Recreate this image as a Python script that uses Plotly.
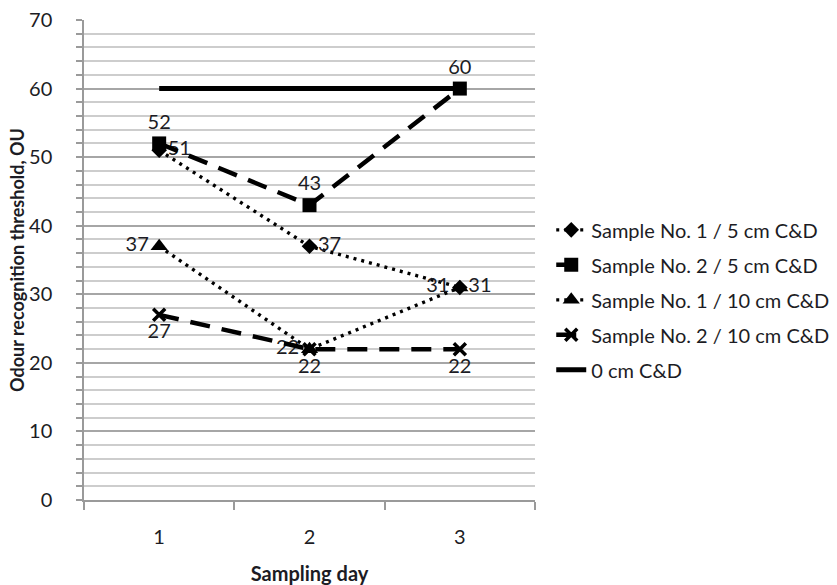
import plotly.graph_objects as go

days = [1, 2, 3]
day_labels = ["1", "2", "3"]

s1_5cm = [51, 37, 31]
s2_5cm = [52, 43, 60]
s1_10cm = [37, 22, 31]
s2_10cm = [27, 22, 22]
ref_0cm = [60, 60, 60]

names = [
    "Sample No. 1 / 5 cm C&D",
    "Sample No. 2 / 5 cm C&D",
    "Sample No. 1 / 10 cm C&D",
    "Sample No. 2 / 10 cm C&D",
    "0 cm C&D",
]

FONT = "Lato"
TXT = "#1c1c24"
FS = 20

DOT = dict(color="black", width=3.4, dash="3px,5px")
DASH = dict(color="black", width=4.5, dash="20px,12px")

fig = go.Figure()

fig.add_trace(go.Scatter(
    x=days, y=s1_5cm, name=names[0], legendgroup="a", mode="lines+markers+text",
    line=DOT,
    marker=dict(symbol="diamond", size=12, color="black"),
    text=[str(v) for v in s1_5cm], textposition="middle right",
    textfont=dict(family=FONT, size=FS, color=TXT),
))
fig.add_trace(go.Scatter(
    x=days, y=s2_5cm, name=names[1], legendgroup="b", mode="lines+markers+text",
    line=DASH,
    marker=dict(symbol="square", size=14, color="black"),
    text=[str(v) for v in s2_5cm], textposition="top center",
    textfont=dict(family=FONT, size=FS, color=TXT),
))
fig.add_trace(go.Scatter(
    x=days, y=s1_10cm, name=names[2], legendgroup="c", mode="lines+markers+text",
    line=DOT,
    marker=dict(symbol="triangle-up", size=15, color="black"),
    text=[str(v) for v in s1_10cm], textposition="middle left",
    textfont=dict(family=FONT, size=FS, color=TXT),
))
fig.add_trace(go.Scatter(
    x=days, y=s2_10cm, name=names[3], legendgroup="d", mode="lines+markers+text",
    line=DASH,
    marker=dict(symbol="x-thin", size=12, color="black",
                line=dict(color="black", width=3.5)),
    text=[str(v) for v in s2_10cm], textposition="bottom center",
    textfont=dict(family=FONT, size=FS, color=TXT),
))
fig.add_trace(go.Scatter(
    x=days, y=ref_0cm, name=names[4], legendgroup="e", mode="lines",
    line=dict(color="black", width=5),
))

fig.update_layout(
    width=837, height=585,
    margin=dict(l=84, r=302, t=20, b=85, autoexpand=False),
    paper_bgcolor="white", plot_bgcolor="white",
    font=dict(family=FONT, size=FS, color=TXT),
    showlegend=True,
    legend=dict(
        x=1.036, xanchor="left", y=0.417, yanchor="middle",
        font=dict(family=FONT, size=FS, color=TXT),
        bgcolor="rgba(0,0,0,0)", tracegroupgap=6, itemwidth=30,
    ),
    xaxis=dict(
        range=[0.5, 3.5], tickvals=days, ticktext=day_labels,
        ticks="", showgrid=False, zeroline=False,
        showline=True, linecolor="#9a9a9a", linewidth=1.5,
        ticklabelstandoff=18,
        minor=dict(tick0=0.5, dtick=1, ticks="outside", ticklen=8,
                   tickcolor="#9a9a9a", tickwidth=1.5, showgrid=False),
        tickfont=dict(family=FONT, size=FS, color=TXT),
        title=dict(text="<b>Sampling day</b>", standoff=22,
                   font=dict(family=FONT, size=FS, color=TXT)),
    ),
    yaxis=dict(
        range=[0, 70], tickvals=[0, 10, 20, 30, 40, 50, 60, 70],
        ticks="outside", ticklen=6, tickcolor="#9a9a9a", tickwidth=1.5,
        showgrid=True, gridcolor="#a6a6a6", gridwidth=1.6,
        zeroline=False, showline=True, linecolor="#9a9a9a", linewidth=1.5,
        ticklabelstandoff=20,
        minor=dict(dtick=2, ticks="outside", ticklen=6, tickcolor="#9a9a9a",
                   tickwidth=1.5, showgrid=True, gridcolor="#cdcdcd", gridwidth=1.6),
        tickfont=dict(family=FONT, size=FS, color=TXT),
        title=dict(text="<b>Odour recognition threshold, OU</b>", standoff=0,
                   font=dict(family=FONT, size=18, color=TXT)),
    ),
)

fig.write_html("out.html")
